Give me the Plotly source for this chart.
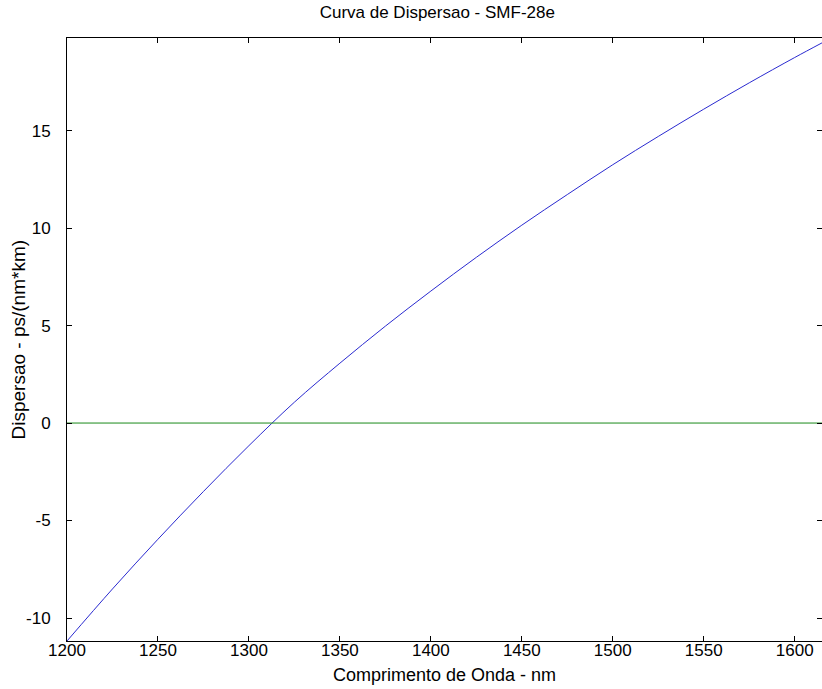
import plotly.graph_objects as go

wavelength_nm = [1200, 1225, 1250, 1275, 1300, 1325, 1350, 1375, 1400, 1425,
                 1450, 1475, 1500, 1525, 1550, 1575, 1600, 1615]
dispersion = [-11.18, -8.51, -5.96, -3.51, -1.16, 1.07, 3.07, 4.97, 6.77, 8.50,
              10.15, 11.72, 13.25, 14.70, 16.10, 17.45, 18.75, 19.50]
zero_x = [1200, 1615]
zero_y = [0, 0]

x_ticks = [1200, 1250, 1300, 1350, 1400, 1450, 1500, 1550, 1600]
y_ticks = [-10, -5, 0, 5, 10, 15]
y_tick_labels = ["-10", "-5", "0", "5", "10", "15"]

fig = go.Figure()
fig.add_trace(go.Scatter(x=wavelength_nm, y=dispersion, mode="lines",
                         line=dict(color="#2a2ad0", width=1, shape="spline", smoothing=1.0),
                         showlegend=False, hoverinfo="skip"))
fig.add_trace(go.Scatter(x=zero_x, y=zero_y, mode="lines",
                         line=dict(color="#1a8a1a", width=1),
                         showlegend=False, hoverinfo="skip"))

FAM = "Liberation Sans, Arial, sans-serif"
font = dict(family=FAM, size=17, color="#000")
axis_common = dict(showgrid=False, zeroline=False, showline=True, linecolor="#000",
                   linewidth=1, mirror="ticks", ticks="inside", ticklen=5,
                   tickcolor="#000", tickfont=font)

fig.update_layout(
    width=822, height=689,
    margin=dict(l=67, r=0, t=38, b=48),
    paper_bgcolor="white", plot_bgcolor="white",
    title=dict(text="Curva de Dispersao - SMF-28e", x=0.532, xanchor="center",
               y=0.982, yanchor="middle", font=dict(family=FAM, size=17, color="#000")),
    xaxis=dict(range=[1200, 1615], tickvals=x_ticks, ticklabelstandoff=-6, **axis_common),
    yaxis=dict(range=[-11.18, 19.75], tickvals=y_ticks, ticktext=y_tick_labels,
               ticklabelstandoff=12, **axis_common),
    annotations=[
        dict(text="Comprimento de Onda - nm", xref="paper", yref="paper", x=0.5, y=0,
             xanchor="center", yanchor="middle", yshift=-34, showarrow=False,
             font=dict(family=FAM, size=18, color="#000")),
        dict(text="Dispersao - ps/(nm*km)", xref="paper", yref="paper", x=0, y=0.5,
             xanchor="center", yanchor="middle", xshift=-49, textangle=-90, showarrow=False,
             font=dict(family=FAM, size=19, color="#000")),
    ],
)

fig.write_html("out.html", config={"displayModeBar": False},
               post_script="document.body.style.margin='0';document.body.style.overflow='hidden';")
